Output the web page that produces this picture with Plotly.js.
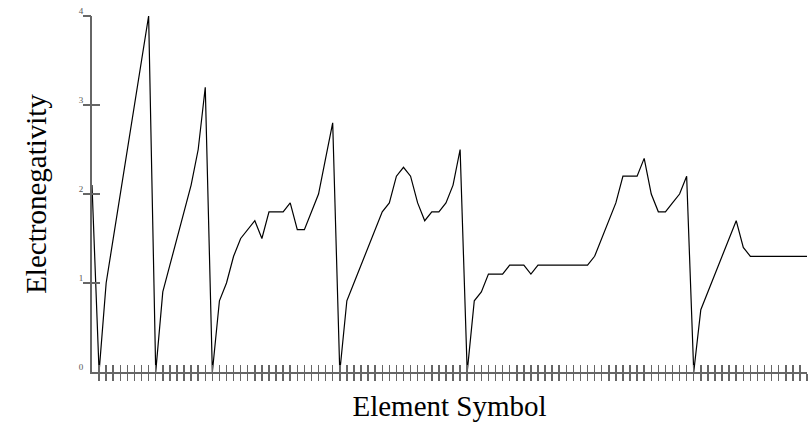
<!DOCTYPE html>
<html>
<head>
<meta charset="utf-8">
<script src="https://cdn.plot.ly/plotly-3.0.1.min.js"></script>
<style>html,body{margin:0;padding:0;background:#fff;}#chart{width:810px;height:427px;}</style>
</head>
<body>
<div id="chart"></div>
<script>
const symbols = ["H","He","Li","Be","B","C","N","O","F","Ne","Na","Mg","Al","Si","P","S","Cl","Ar",
  "K","Ca","Sc","Ti","V","Cr","Mn","Fe","Co","Ni","Cu","Zn","Ga","Ge","As","Se","Br","Kr",
  "Rb","Sr","Y","Zr","Nb","Mo","Tc","Ru","Rh","Pd","Ag","Cd","In","Sn","Sb","Te","I","Xe",
  "Cs","Ba","La","Ce","Pr","Nd","Pm","Sm","Eu","Gd","Tb","Dy","Ho","Er","Tm","Yb","Lu",
  "Hf","Ta","W","Re","Os","Ir","Pt","Au","Hg","Tl","Pb","Bi","Po","At","Rn",
  "Fr","Ra","Ac","Th","Pa","U","Np","Pu","Am","Cm","Bk","Cf","Es","Fm","Md","No"];
const electronegativity = [2.1, 0, 1.0, 1.5, 2.0, 2.5, 3.0, 3.5, 4.0, 0,
  0.9, 1.2, 1.5, 1.8, 2.1, 2.5, 3.2, 0,
  0.8, 1.0, 1.3, 1.5, 1.6, 1.7, 1.5, 1.8, 1.8, 1.8, 1.9, 1.6, 1.6, 1.8, 2.0, 2.4, 2.8, 0,
  0.8, 1.0, 1.2, 1.4, 1.6, 1.8, 1.9, 2.2, 2.3, 2.2, 1.9, 1.7, 1.8, 1.8, 1.9, 2.1, 2.5, 0,
  0.8, 0.9, 1.1, 1.1, 1.1, 1.2, 1.2, 1.2, 1.1, 1.2, 1.2, 1.2, 1.2, 1.2, 1.2, 1.2, 1.2,
  1.3, 1.5, 1.7, 1.9, 2.2, 2.2, 2.2, 2.4, 2.0, 1.8, 1.8, 1.9, 2.0, 2.2, 0,
  0.7, 0.9, 1.1, 1.3, 1.5, 1.7, 1.4, 1.3, 1.3, 1.3, 1.3, 1.3, 1.3, 1.3, 1.3, 1.3];
const yTickVals = [0, 1, 2, 3, 4];
const xTitle = "Element Symbol";
const yTitle = "Electronegativity";

const axisColor = "#666";
const serif = "Liberation Serif, Times New Roman, serif";

const traces = [
  {x: symbols, y: electronegativity, type: "scatter", mode: "lines",
   line: {color: "#000", width: 1.2}, hoverinfo: "skip", showlegend: false},
  {x: symbols, y: electronegativity, type: "scatter", mode: "none",
   xaxis: "x2", yaxis: "y2", hoverinfo: "skip", showlegend: false}
];

const layout = {
  width: 810, height: 427,
  margin: {l: 92, r: 3, t: 16, b: 55, pad: 0},
  paper_bgcolor: "#fff", plot_bgcolor: "#fff",
  showlegend: false,
  xaxis: {
    type: "category", range: [0, symbols.length - 1],
    showline: true, linecolor: axisColor, linewidth: 2,
    ticks: "outside", ticklen: 7, tickwidth: 1.5, tickcolor: axisColor,
    tickvals: symbols.slice(1), showticklabels: false,
    showgrid: false, zeroline: false, fixedrange: true,
    title: {text: xTitle, font: {family: serif, size: 29, color: "#000"}, standoff: 16}
  },
  xaxis2: {
    type: "category", overlaying: "x", matches: "x",
    showline: false, ticks: "inside", ticklen: 7, tickwidth: 1.5, tickcolor: axisColor,
    tickvals: symbols.slice(1), showticklabels: false,
    showgrid: false, zeroline: false
  },
  yaxis: {
    range: [0, 4], tickvals: yTickVals,
    showline: true, linecolor: axisColor, linewidth: 2,
    ticks: "inside", ticklen: 8, tickwidth: 1.5, tickcolor: axisColor,
    ticklabelstandoff: 5, ticklabelshift: -5,
    tickfont: {family: serif, size: 9, color: "#555"},
    showgrid: false, zeroline: false, fixedrange: true,
    title: {text: yTitle, font: {family: serif, size: 29, color: "#000"}, standoff: 24}
  },
  yaxis2: {
    overlaying: "y", matches: "y", range: [0, 4],
    tickvals: yTickVals.slice(1),
    showline: false, ticks: "outside", ticklen: 8, tickwidth: 1.5, tickcolor: axisColor,
    showticklabels: false, showgrid: false, zeroline: false
  }
};

Plotly.newPlot("chart", traces, layout, {displayModeBar: false, staticPlot: true});
</script>
</body>
</html>
